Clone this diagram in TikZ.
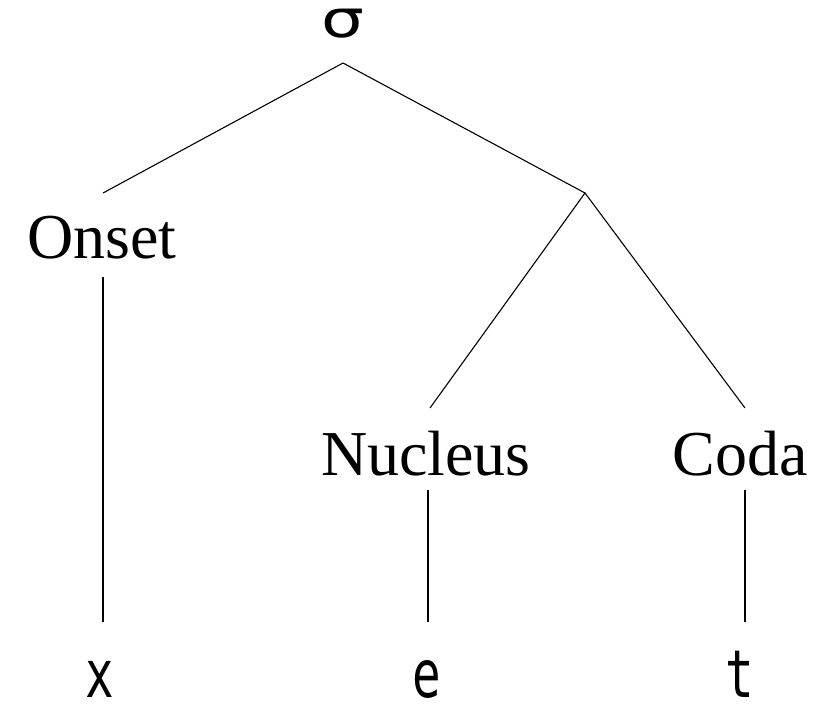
\documentclass[tikz,border=0pt]{standalone}
\usepackage{fontspec}
\setmainfont{Liberation Serif}
\newfontfamily\symfont{DejaVu Sans}
\newfontfamily\segfont{DejaVu Sans Mono}
\begin{document}
\begin{tikzpicture}[x=1pt,y=-1pt,
  lbl/.style={anchor=base,inner sep=0pt,font=\fontsize{64}{64}\selectfont},
  seg/.style={anchor=base,inner sep=0pt,text depth=0pt,font=\fontsize{66}{66}\segfont},
  edge/.style={line width=1.1pt,black}]
\useasboundingbox (0,0) rectangle (835,706);
\node[anchor=base,inner sep=0pt,font=\fontsize{52}{52}\symfont] (sigma) at (343,38) {\scalebox{1.3}[1]{σ}};
\node[lbl] (onset) at (102,258) {Onset};
\node[lbl] (nucleus) at (426,475) {Nucleus};
\node[lbl] (coda) at (740,475) {Coda};
\node[seg] (x) at (100,697) {\scalebox{0.72}[1]{x}};
\node[seg] (e) at (427,697) {\scalebox{0.72}[1]{e}};
\node[seg] (t) at (740,697) {\scalebox{0.72}[1]{t}};
\coordinate (sbot) at (343,63);
\coordinate (otop) at (103,193);
\coordinate (rhyme) at (585,193);
\coordinate (obot) at (103,277);
\coordinate (xtop) at (103,622);
\coordinate (ntop) at (430,408);
\coordinate (ctop) at (745,408);
\coordinate (nbot) at (428,490);
\coordinate (etop) at (428,622);
\coordinate (cbot) at (745,490);
\coordinate (ttop) at (745,622);
\draw[edge] (otop) -- (sbot) -- (rhyme);
\draw[edge] (ntop) -- (rhyme) -- (ctop);
\draw[edge] (obot) -- (xtop);
\draw[edge] (nbot) -- (etop);
\draw[edge] (cbot) -- (ttop);
\end{tikzpicture}
\end{document}
